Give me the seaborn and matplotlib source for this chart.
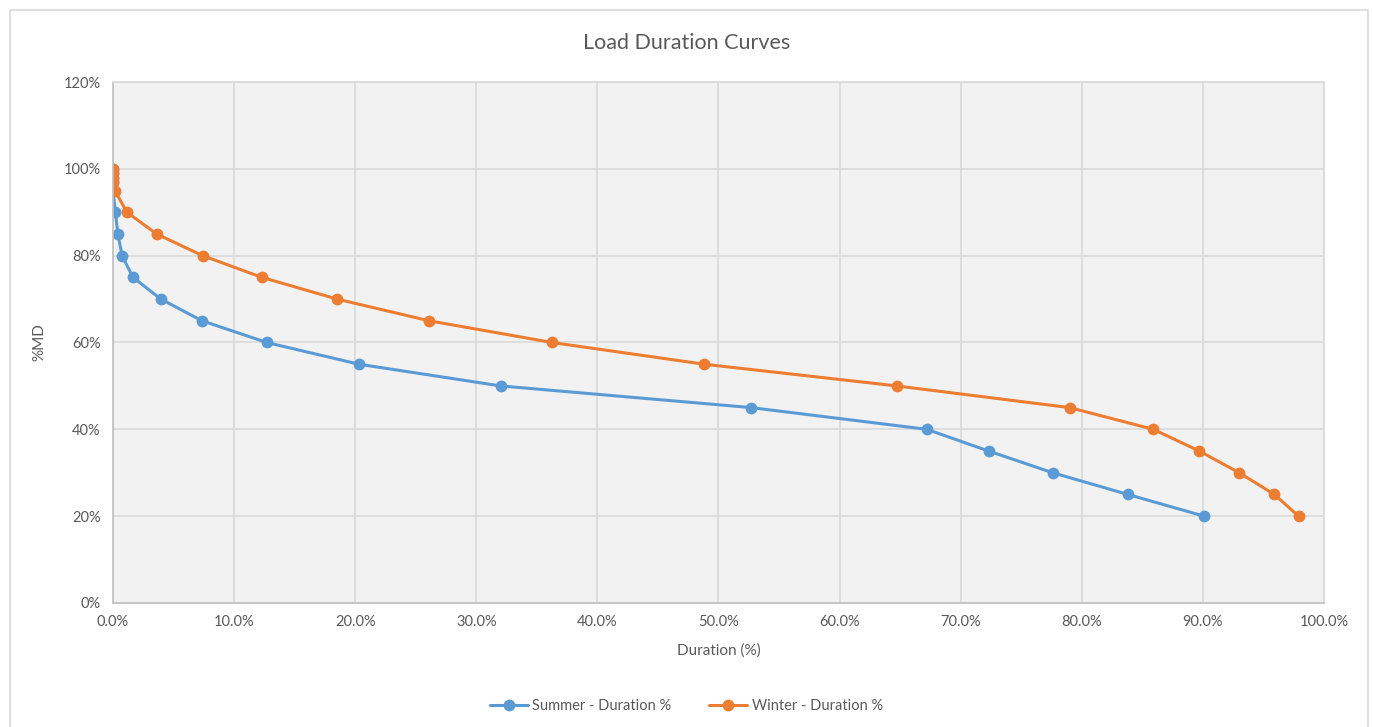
import matplotlib
matplotlib.use("Agg")
import matplotlib.pyplot as plt
import matplotlib.patches as mpatches
from matplotlib.ticker import FuncFormatter, MultipleLocator
import seaborn as sns
import pandas as pd

# Data (duration % of time, load as % of maximum demand)
summer_duration = [0.0, 0.0, 0.0, 0.0, 0.0, 0.2, 0.4, 0.75, 1.65, 3.95, 7.35, 12.7,
                   20.3, 32.0, 52.7, 67.2, 72.3, 77.6, 83.8, 90.1]
summer_md = [100, 99, 98, 97, 95, 90, 85, 80, 75, 70, 65, 60, 55, 50, 45, 40, 35, 30, 25, 20]

winter_duration = [0.0, 0.0, 0.0, 0.0, 0.15, 1.15, 3.6, 7.4, 12.3, 18.5, 26.1, 36.25,
                   48.8, 64.7, 79.0, 85.9, 89.7, 93.0, 95.9, 97.9]
winter_md = [100, 99, 98, 97, 95, 90, 85, 80, 75, 70, 65, 60, 55, 50, 45, 40, 35, 30, 25, 20]

series_names = ["Summer - Duration %", "Winter - Duration %"]
colors = ["#5B9BD5", "#ED7D31"]

df = pd.concat([
    pd.DataFrame({"Duration": summer_duration, "MD": summer_md, "Series": series_names[0]}),
    pd.DataFrame({"Duration": winter_duration, "MD": winter_md, "Series": series_names[1]}),
], ignore_index=True)

sns.set_theme(style="white")
plt.rcParams["font.family"] = ["Lato", "DejaVu Sans"]
text_color = "#595959"

fig = plt.figure(figsize=(13.73, 7.27), dpi=100)
ax = fig.add_axes([0.0823, 0.1706, 0.8820, 0.7166])

# chart border
fig.patches.append(mpatches.Rectangle((10 / 1373, -0.01), 1358 / 1373, 1 - 10 / 727 + 0.01,
                                      transform=fig.transFigure, fill=False,
                                      edgecolor="#D9D9D9", linewidth=1.2))

ax.set_facecolor("#F2F2F2")
sns.lineplot(data=df, x="Duration", y="MD", hue="Series", palette=colors,
             marker="o", markersize=8.5, markeredgewidth=0, linewidth=2.2,
             sort=False, estimator=None, ax=ax)

ax.set_xlim(0, 100)
ax.set_ylim(0, 120)
ax.xaxis.set_major_locator(MultipleLocator(10))
ax.yaxis.set_major_locator(MultipleLocator(20))
ax.xaxis.set_major_formatter(FuncFormatter(lambda v, p: f"{v:.1f}%"))
ax.yaxis.set_major_formatter(FuncFormatter(lambda v, p: f"{v:.0f}%"))
ax.grid(True, color="#D9D9D9", linewidth=1.2)
ax.set_axisbelow(True)
for s in ax.spines.values():
    s.set_color("#D9D9D9")
    s.set_linewidth(1.2)
ax.spines["left"].set_color("#BFBFBF")
ax.spines["bottom"].set_color("#BFBFBF")
ax.tick_params(axis="both", length=0, labelsize=10.5, colors=text_color, pad=9)

ax.set_xlabel("Duration (%)", fontsize=11, color=text_color, labelpad=10)
ax.set_ylabel("%MD", fontsize=11, color=text_color, labelpad=12)
fig.text(0.5, 1 - 43 / 727, "Load Duration Curves", ha="center", va="center",
         fontsize=15.5, color=text_color)

handles, labels = ax.get_legend_handles_labels()
ax.legend(handles, labels, loc="center", bbox_to_anchor=(0.5, 1 - 706 / 727),
          bbox_transform=fig.transFigure, ncol=2, frameon=False, fontsize=10.5,
          labelcolor=text_color, handlelength=2.6, columnspacing=2.6, handletextpad=0.3)

fig.savefig("out.png", dpi=100)
